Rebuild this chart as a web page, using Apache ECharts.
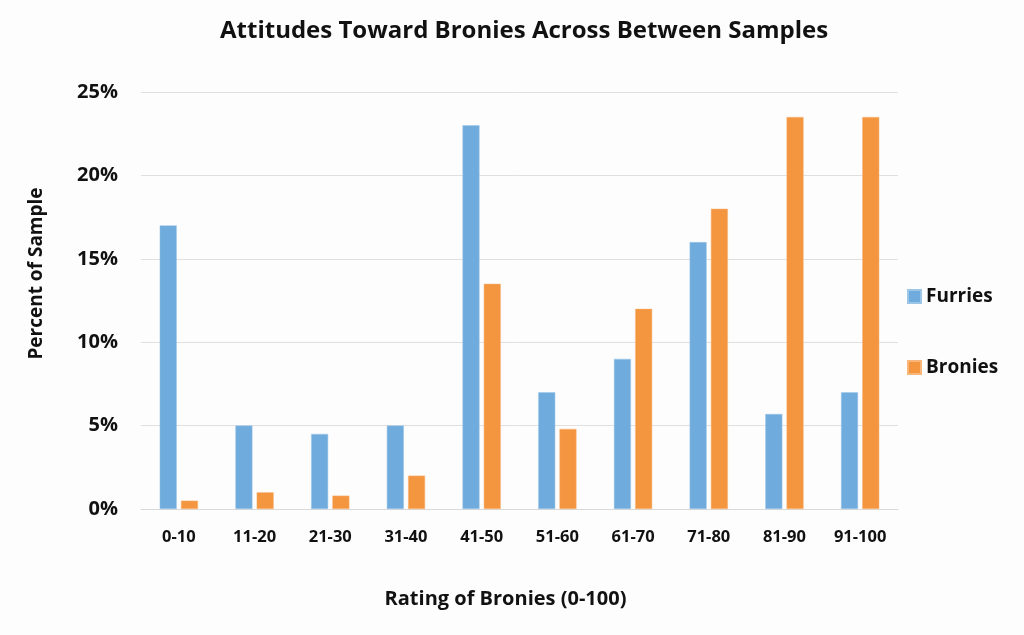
<!DOCTYPE html>
<html>
<head>
<meta charset="utf-8">
<script src="https://cdn.jsdelivr.net/npm/echarts@6/dist/echarts.min.js"></script>
<style>
html,body{margin:0;padding:0;background:#fdfdfd;}
#chart{width:1024px;height:635px;}
</style>
</head>
<body>
<div id="chart"></div>
<script>
const categories = ['0-10','11-20','21-30','31-40','41-50','51-60','61-70','71-80','81-90','91-100'];
const furries = [17, 5, 4.5, 5, 23, 7, 9, 16, 5.7, 7];
const bronies = [0.5, 1, 0.8, 2, 13.5, 4.8, 12, 18, 23.5, 23.5];
const yTicks = [0, 5, 10, 15, 20, 25];

const FONT = '"Open Sans", sans-serif';
const chart = echarts.init(document.getElementById('chart'), null, {renderer: 'canvas'});
chart.setOption({
  backgroundColor: '#fdfdfd',
  animation: false,
  title: {
    text: 'Attitudes Toward Bronies Across Between Samples',
    left: 220,
    top: 19,
    padding: 0,
    textStyle: {fontFamily: FONT, fontWeight: 'bold', fontSize: 24, color: '#111'}
  },
  legend: {
    orient: 'vertical',
    left: 907,
    top: 287,
    padding: 0,
    itemWidth: 13,
    itemHeight: 13,
    itemGap: 52,
    icon: 'rect',
    textStyle: {fontFamily: FONT, fontWeight: 'bold', fontSize: 19, color: '#111'},
    data: ['Furries', 'Bronies']
  },
  grid: {left: 141, right: 126, top: 92, bottom: 126},
  xAxis: {
    type: 'category',
    data: categories,
    name: 'Rating of Bronies (0-100)',
    nameLocation: 'middle',
    nameGap: 80,
    nameTextStyle: {fontFamily: FONT, fontWeight: 'bold', fontSize: 20, color: '#111', padding: [0, 28, 0, 0]},
    axisLine: {lineStyle: {color: '#d9d9d9', width: 1}},
    axisTick: {show: false},
    axisLabel: {interval: 0, fontFamily: FONT, fontWeight: 'bold', fontSize: 16.5, color: '#111', margin: 20}
  },
  yAxis: {
    type: 'value',
    min: 0,
    max: 25,
    interval: 5,
    name: 'Percent of Sample',
    nameLocation: 'middle',
    nameGap: 95,
    nameTextStyle: {fontFamily: FONT, fontWeight: 'bold', fontSize: 19, color: '#111', padding: [0, 0, 0, 54]},
    axisLine: {show: false},
    axisTick: {show: false},
    splitLine: {lineStyle: {color: '#e0e0e0', width: 1}},
    axisLabel: {
      fontFamily: FONT, fontWeight: 'bold', fontSize: 20, color: '#111', margin: 23,
      formatter: v => yTicks.includes(v) ? v + '%' : ''
    }
  },
  series: [
    {
      name: 'Furries', type: 'bar', data: furries,
      barWidth: 17, barGap: '25%',
      itemStyle: {color: '#6fabdc', borderColor: '#9cc6e8', borderWidth: 0.5}
    },
    {
      name: 'Bronies', type: 'bar', data: bronies,
      barWidth: 17, barGap: '25%',
      itemStyle: {color: '#f4953f', borderColor: '#f8b67a', borderWidth: 0.5}
    }
  ]
});
</script>
</body>
</html>
